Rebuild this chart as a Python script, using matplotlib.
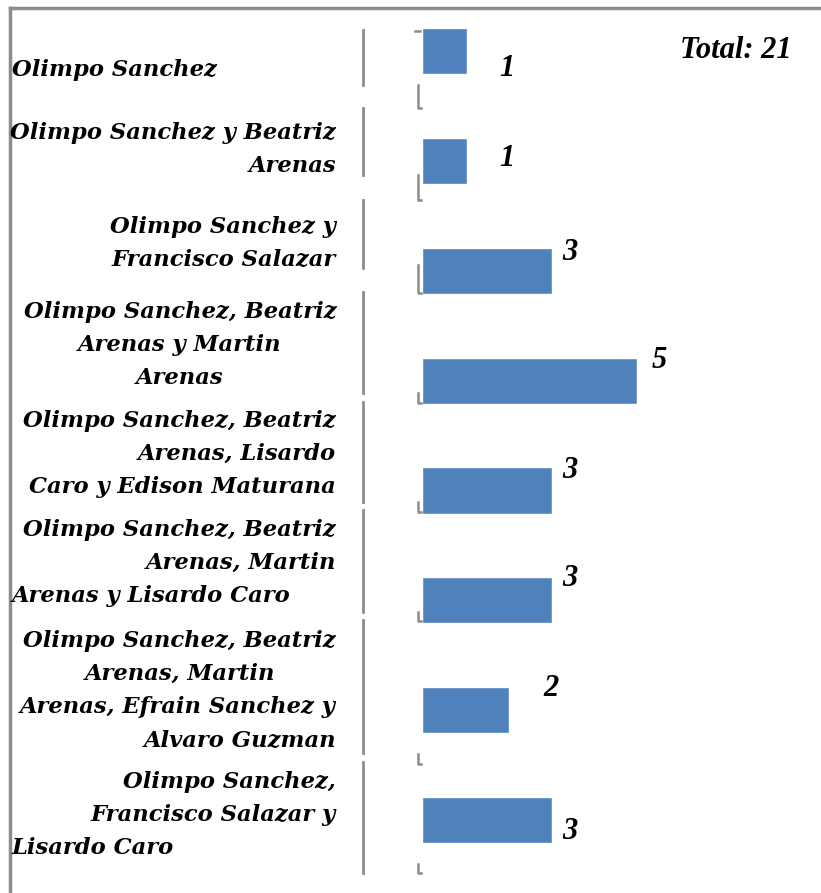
import numpy as np
from matplotlib import pyplot as plt
from matplotlib.lines import Line2D

W, H = 821, 893

# data
names = [
    "Olimpo Sanchez",
    "Olimpo Sanchez y Beatriz\nArenas",
    "Olimpo Sanchez y\nFrancisco Salazar",
    "Olimpo Sanchez, Beatriz\nArenas y Martin\nArenas",
    "Olimpo Sanchez, Beatriz\nArenas, Lisardo\nCaro y Edison Maturana",
    "Olimpo Sanchez, Beatriz\nArenas, Martin\nArenas y Lisardo Caro",
    "Olimpo Sanchez, Beatriz\nArenas, Martin\nArenas, Efrain Sanchez y\nAlvaro Guzman",
    "Olimpo Sanchez,\nFrancisco Salazar y\nLisardo Caro",
]
counts = [1, 1, 3, 5, 3, 3, 2, 3]
total_text = "Total: 21"

# how excel laid the wrapped lines out (l / c / r per line)
line_align = ["l", "rr", "rr", "ccc", "rrr", "rrl", "rcrr", "rrl"]
block_shift = [19.5, -11, -27.5, -35.5, -36.5, -37.5, -20, -5.5]   # px, down +
val_dx = [41.5, 41.5, 19.5, 23.5, 19.5, 19.5, 43, 19.5]
val_dy = [18.5, -1.5, -18.5, -19.5, -19.5, -21.5, -21.5, 11.5]

gray = '#8c8c8c'
lab_font = dict(family='DejaVu Serif', weight='bold', style='italic', fontsize=16.3)
val_font = dict(family='Liberation Serif', weight='bold', style='italic', fontsize=22)

fig = plt.figure(figsize=(W/100, H/100), dpi=100)
fig.set_facecolor('white')

x0, ppu = 423, 42.5       # bar origin in px, px per unit
row0, rowh = 50.5, 110    # first row centre, row pitch (px)
ax = fig.add_axes([x0/W, 0, (W-x0)/W, 1])
ax.set_xlim(0, (W-x0)/ppu)
ax.set_ylim((H-row0)/rowh, -row0/rowh)
ax.axis('off')

y = np.arange(len(counts))
ax.barh(y, counts, height=44/rowh, color='#4f81bd', edgecolor='#6b95c9', linewidth=0.6)

for i, v in enumerate(counts):
    ax.annotate(str(v), (v, i), xytext=(val_dx[i]*0.72, -val_dy[i]*0.72),
                textcoords='offset points', ha='center', va='center', **val_font)

def fx(px):
    return px/W
def fy(py):
    return 1-py/H

# category labels, line by line
xs = {'l': (12, 'left'), 'c': (180, 'center'), 'r': (336, 'right')}
for i, nm in enumerate(names):
    lines = nm.split('\n')
    c = row0 + rowh*i + block_shift[i]
    n = len(lines)
    for k, ln in enumerate(lines):
        py = c + (k - (n-1)/2)*33
        xp, ha = xs[line_align[i][k]]
        fig.text(fx(xp), fy(py), ln, ha=ha, va='center', **lab_font)

fig.text(fx(736), fy(50), total_text, ha='center', va='center', **val_font)

# frame (top + left)
fig.add_artist(Line2D([fx(10), 1], [fy(8), fy(8)], color=gray, lw=2.5))
fig.add_artist(Line2D([fx(10), fx(10)], [fy(8), 0], color=gray, lw=2.5))

# separators between label groups
seps = [(30, 85), (108, 175), (200, 268), (292, 393), (402, 502), (510, 612), (620, 753), (762, 873)]
for a, b in seps:
    fig.add_artist(Line2D([fx(363), fx(363)], [fy(a), fy(b)], color=gray, lw=2))

# little tick stubs on the axis
ticks = [(85, 108), (175, 200), (265, 293), (393, 403), (502, 512), (612, 621), (754, 764), (864, 873)]
for a, b in ticks:
    fig.add_artist(Line2D([fx(418), fx(418), fx(421)], [fy(a), fy(b), fy(b)], color=gray, lw=1.8))
fig.add_artist(Line2D([fx(415), fx(420)], [fy(31), fy(31)], color=gray, lw=1.8))

fig.savefig('out.png', dpi=100)
